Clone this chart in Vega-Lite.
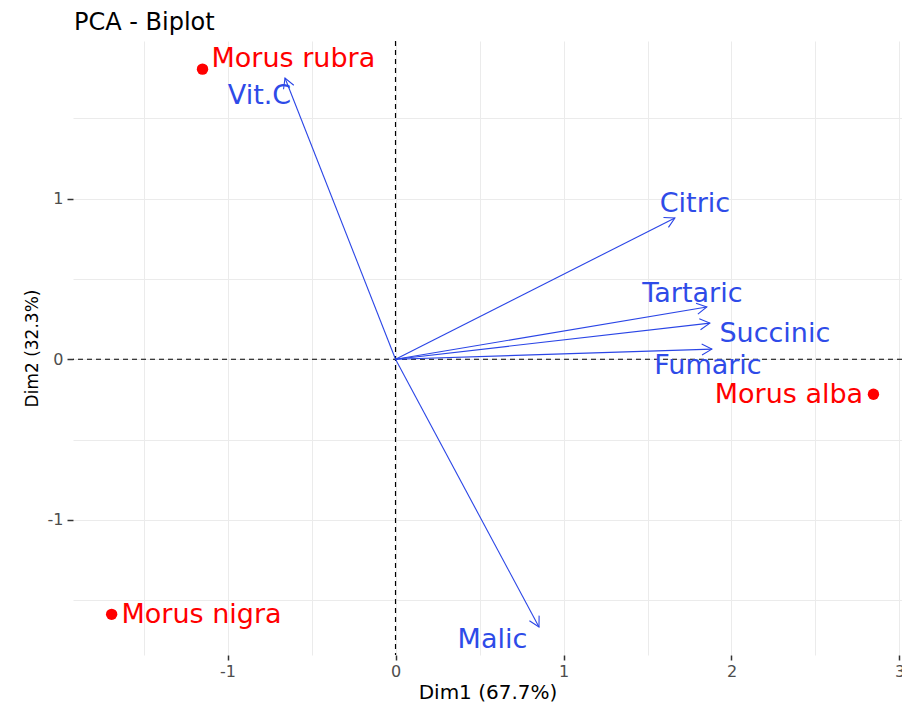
{
  "$schema": "https://vega.github.io/schema/vega-lite/v6.json",
  "width": 829,
  "height": 614,
  "autosize": "none",
  "padding": {"left": 73, "top": 41, "right": 0, "bottom": 49},
  "background": "white",
  "title": {"text": "PCA - Biplot", "anchor": "start", "frame": "group", "font": "DejaVu Sans", "fontSize": 24, "fontWeight": "normal", "color": "#000000", "baseline": "alphabetic", "offset": -14, "dx": 1},
  "config": {
    "view": {"stroke": null},
    "font": "DejaVu Sans",
    "axis": {
      "domain": false,
      "grid": true,
      "gridColor": "#EBEBEB",
      "gridWidth": 1,
      "labelFont": "DejaVu Sans",
      "labelFontSize": 16,
      "labelColor": "#4D4D4D",
      "tickColor": "#333333",
      "tickWidth": 1.5,
      "tickSize": 5,
      "titleFont": "DejaVu Sans",
      "titleFontWeight": "normal",
      "titleColor": "#000000",
      "labelFlush": false,
      "labelOverlap": false
    }
  },
  "datasets": {
    "origin": [{"v": 0}],
    "vars": [
      {"name": "Vit.C", "x": -0.658, "y": 1.75, "lx": -0.81, "ly": 1.638},
      {"name": "Citric", "x": 1.663, "y": 0.879, "lx": 1.782, "ly": 0.969},
      {"name": "Tartaric", "x": 1.853, "y": 0.325, "lx": 1.767, "ly": 0.409},
      {"name": "Succinic", "x": 1.871, "y": 0.225, "lx": 2.258, "ly": 0.154},
      {"name": "Fumaric", "x": 1.883, "y": 0.063, "lx": 1.86, "ly": -0.045},
      {"name": "Malic", "x": 0.854, "y": -1.666, "lx": 0.577, "ly": -1.747}
    ],
    "inds": [
      {"name": "Morus rubra", "x": -1.149, "y": 1.805, "lx": -0.608, "ly": 1.868},
      {"name": "Morus nigra", "x": -1.69, "y": -1.587, "lx": -1.155, "ly": -1.592},
      {"name": "Morus alba", "x": 2.845, "y": -0.218, "lx": 2.342, "ly": -0.22}
    ]
  },
  "layer": [
    {
      "data": {"name": "origin"},
      "mark": {"type": "rule", "color": "#000000", "strokeDash": [5, 4], "strokeWidth": 1.2},
      "encoding": {
        "y": {
          "field": "v", "type": "quantitative",
          "scale": {"domain": [-1.84, 1.98], "nice": false, "zero": false},
          "axis": {
            "values": [-1.5, -1, -0.5, 0, 0.5, 1, 1.5],
            "labelExpr": "datum.value % 1 === 0 ? '' + datum.value : ''",
            "tickOpacity": {"condition": {"test": "datum.value % 1 !== 0", "value": 0}, "value": 1},
            "title": "Dim2 (32.3%)",
            "titleFontSize": 17,
            "tickSize": 6,
            "labelPadding": 4,
            "titlePadding": 6
          }
        }
      }
    },
    {
      "data": {"name": "origin"},
      "mark": {"type": "rule", "color": "#000000", "strokeDash": [5, 4], "strokeWidth": 1.2},
      "encoding": {
        "x": {
          "field": "v", "type": "quantitative",
          "scale": {"domain": [-1.92, 3.015], "nice": false, "zero": false},
          "axis": {
            "values": [-1.5, -1, -0.5, 0, 0.5, 1, 1.5, 2, 2.5, 3],
            "labelExpr": "datum.value % 1 === 0 ? '' + datum.value : ''",
            "tickOpacity": {"condition": {"test": "datum.value % 1 !== 0", "value": 0}, "value": 1},
            "title": "Dim1 (67.7%)",
            "titleFontSize": 20,
            "labelPadding": 3,
            "titlePadding": 3
          }
        }
      }
    },
    {
      "data": {"name": "vars"},
      "mark": {"type": "rule", "color": "#2A45E6", "strokeWidth": 1.1},
      "encoding": {
        "x": {"field": "x", "type": "quantitative"},
        "y": {"field": "y", "type": "quantitative"},
        "x2": {"datum": 0},
        "y2": {"datum": 0}
      }
    },
    {
      "data": {"name": "vars"},
      "transform": [{"calculate": "-atan2(datum.y * 160.7, datum.x * 168) * 180 / PI", "as": "ang"}],
      "mark": {"type": "point", "shape": "M-1,-0.55L0,0L-1,0.55", "filled": false, "color": "#2A45E6", "strokeWidth": 1.1, "size": 400, "opacity": 1},
      "encoding": {
        "x": {"field": "x", "type": "quantitative"},
        "y": {"field": "y", "type": "quantitative"},
        "angle": {"field": "ang", "type": "quantitative", "scale": null}
      }
    },
    {
      "data": {"name": "vars"},
      "mark": {"type": "text", "color": "#2E4BE8", "fontSize": 27, "font": "DejaVu Sans", "align": "center", "baseline": "middle"},
      "encoding": {
        "x": {"field": "lx", "type": "quantitative"},
        "y": {"field": "ly", "type": "quantitative"},
        "text": {"field": "name"}
      }
    },
    {
      "data": {"name": "inds"},
      "mark": {"type": "point", "shape": "circle", "filled": true, "color": "#FF0000", "size": 130, "opacity": 1},
      "encoding": {
        "x": {"field": "x", "type": "quantitative"},
        "y": {"field": "y", "type": "quantitative"}
      }
    },
    {
      "data": {"name": "inds"},
      "mark": {"type": "text", "color": "#FF0000", "fontSize": 27, "font": "DejaVu Sans", "align": "center", "baseline": "middle"},
      "encoding": {
        "x": {"field": "lx", "type": "quantitative"},
        "y": {"field": "ly", "type": "quantitative"},
        "text": {"field": "name"}
      }
    }
  ]
}
